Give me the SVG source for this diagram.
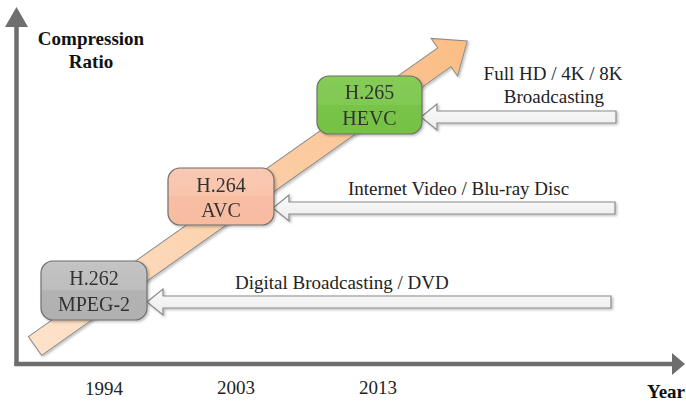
<svg xmlns="http://www.w3.org/2000/svg" width="686" height="403" viewBox="0 0 686 403">
<defs>
<linearGradient id="gOrange" x1="0" y1="0" x2="1" y2="0">
<stop offset="0" stop-color="#fde2cb"/>
<stop offset="1" stop-color="#fbbd85"/>
</linearGradient>
<linearGradient id="gGray" x1="0" y1="0" x2="0" y2="1">
<stop offset="0" stop-color="#c4c4c4"/><stop offset="0.5" stop-color="#bdbdbd"/>
<stop offset="0.5" stop-color="#b3b3b3"/><stop offset="1" stop-color="#b0b0b0"/>
</linearGradient>
<linearGradient id="gSalmon" x1="0" y1="0" x2="0" y2="1">
<stop offset="0" stop-color="#fac9b3"/><stop offset="0.5" stop-color="#f9c4ab"/>
<stop offset="0.5" stop-color="#f8bea4"/><stop offset="1" stop-color="#f7bba0"/>
</linearGradient>
<linearGradient id="gGreen" x1="0" y1="0" x2="0" y2="1">
<stop offset="0" stop-color="#86cc58"/><stop offset="0.5" stop-color="#80c952"/>
<stop offset="0.5" stop-color="#78c448"/><stop offset="1" stop-color="#74c244"/>
</linearGradient>
<linearGradient id="gWhite" x1="0" y1="0" x2="0" y2="1">
<stop offset="0" stop-color="#fafafa"/><stop offset="1" stop-color="#ececec"/>
</linearGradient>
<filter id="shadow" x="-10%" y="-10%" width="130%" height="130%">
<feDropShadow dx="1.5" dy="1.5" stdDeviation="1.2" flood-color="#000" flood-opacity="0.25"/>
</filter>
</defs>
<style>
.axis{stroke:#6e6e6e;stroke-width:4.5;fill:none}
.axhead{fill:#6e6e6e}
.box{stroke:#6f6f6f;stroke-width:1.2}
.bt{font-family:"Liberation Serif","Times New Roman",serif;font-size:20px;fill:#333;text-anchor:middle}
.lbl{font-family:"Liberation Serif","Times New Roman",serif;font-size:19px;fill:#222}
.yr{font-family:"Liberation Serif","Times New Roman",serif;font-size:19px;fill:#222;text-anchor:middle}
.heading{font-family:"Liberation Serif","Times New Roman",serif;font-size:19px;font-weight:bold;fill:#111}
.blk{fill:url(#gWhite);stroke:#8a8a8a;stroke-width:1.2}
</style>
<g id="axes">
<path class="axis" d="M16.5,366 L16.5,24"/>
<path class="axis" d="M14.5,364 L674,364"/>
<path class="axhead" d="M16.5,7 L28,27 L5,27 Z"/>
<path class="axhead" d="M685,364 L672,353 L672,375 Z"/>
</g>
<g id="trend-arrow" filter="url(#shadow)">
<path d="M0,-11.5 L501,-11.5 L501,-23 L529,0 L501,23 L501,11.5 L0,11.5 Z" fill="url(#gOrange)" stroke="#8c8c8c" stroke-width="1" transform="translate(35,346) rotate(-35.2)"/>
</g>
<g id="connectors">
<path class="blk" filter="url(#shadow)" d="M147,302 L163,289 L163,296 L611,296 L611,308 L163,308 L163,315 Z"/>
<path class="blk" filter="url(#shadow)" d="M273,208 L289,195 L289,202 L615,202 L615,214 L289,214 L289,221 Z"/>
<path class="blk" filter="url(#shadow)" d="M421,117 L437,104 L437,111 L616,111 L616,123 L437,123 L437,130 Z"/>
</g>
<g id="node-h262" filter="url(#shadow)">
<rect class="box" x="41" y="261" width="106" height="59" rx="12" fill="url(#gGray)"/>
<text class="bt" x="94" y="285">H.262</text>
<text class="bt" x="94" y="311">MPEG-2</text>
</g>
<g id="node-h264" filter="url(#shadow)">
<rect class="box" x="168" y="168" width="106" height="57" rx="12" fill="url(#gSalmon)"/>
<text class="bt" x="221" y="192">H.264</text>
<text class="bt" x="221" y="217">AVC</text>
</g>
<g id="node-h265" filter="url(#shadow)">
<rect class="box" x="317" y="76" width="105" height="58" rx="12" fill="url(#gGreen)" stroke="#5d8a40"/>
<text class="bt" x="369.5" y="99">H.265</text>
<text class="bt" x="369.5" y="125">HEVC</text>
</g>
<g id="labels">
<text class="heading" x="91" y="45" text-anchor="middle">Compression</text>
<text class="heading" x="91" y="68" text-anchor="middle">Ratio</text>
<text class="heading" x="685" y="398" text-anchor="end">Year</text>
<text class="yr" x="104" y="395">1994</text>
<text class="yr" x="236" y="394">2003</text>
<text class="yr" x="378" y="394">2013</text>
<text class="lbl" x="235" y="289">Digital Broadcasting / DVD</text>
<text class="lbl" x="348" y="195">Internet Video / Blu-ray Disc</text>
<text class="lbl" x="553" y="80" text-anchor="middle">Full HD / 4K / 8K</text>
<text class="lbl" x="554" y="103" text-anchor="middle">Broadcasting</text>
</g>
</svg>
